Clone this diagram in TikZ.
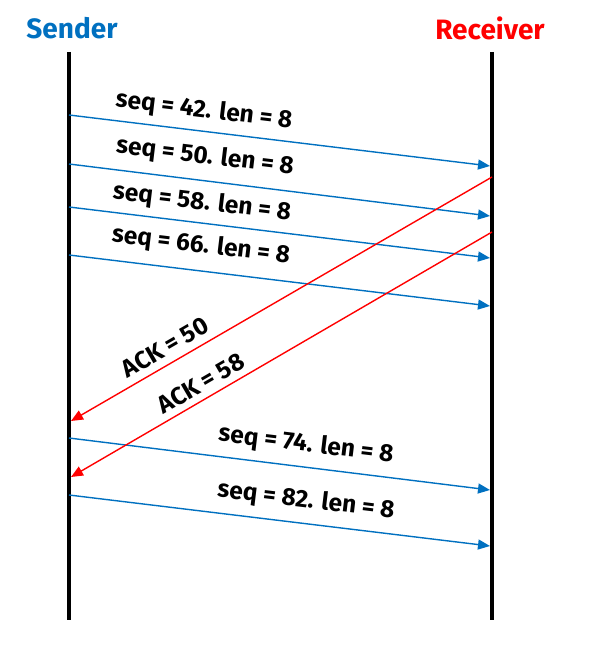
\documentclass[tikz,border=0pt]{standalone}
\usepackage{fontspec}
\setmainfont{Fira Sans}
\usetikzlibrary{arrows.meta}
\definecolor{sblue}{RGB}{0,112,192}
\definecolor{rred}{RGB}{255,0,0}
\begin{document}
\begin{tikzpicture}[x=1pt,y=-1pt,
  life/.style={line width=4pt,black},
  data/.style={line width=1.4pt,sblue,-{Triangle[length=12pt,width=10pt]}},
  ack/.style={line width=1.4pt,rred,-{Triangle[length=12pt,width=10pt]}},
  lbl/.style={font=\fontsize{24.5}{28}\selectfont\bfseries,inner sep=0pt},
  head/.style={font=\fontsize{28}{32}\selectfont\bfseries,inner sep=0pt}]
\useasboundingbox (0,0) rectangle (595,655);
% lifelines
\coordinate (s0) at (69,52); \coordinate (s1) at (69,620);
\coordinate (r0) at (492,52); \coordinate (r1) at (492,620);
\draw[life] (s0) -- (s1);
\draw[life] (r0) -- (r1);
\node[head,text=sblue] (sender) at (72,28) {Sender};
\node[head,text=rred] (receiver) at (490,28) {Receiver};
% endpoints
\coordinate (a1) at (69,115); \coordinate (b1) at (490,166);
\coordinate (a2) at (69,164); \coordinate (b2) at (490,216);
\coordinate (a3) at (69,207); \coordinate (b3) at (490,258);
\coordinate (a4) at (69,255); \coordinate (b4) at (490,306);
\coordinate (a5) at (69,438); \coordinate (b5) at (490,490);
\coordinate (a6) at (69,495); \coordinate (b6) at (490,546);
\coordinate (c1) at (492,177); \coordinate (d1) at (71,421);
\coordinate (c2) at (492,232); \coordinate (d2) at (71,477);
\draw[data] (a1) -- (b1);
\draw[data] (a2) -- (b2);
\draw[data] (a3) -- (b3);
\draw[data] (a4) -- (b4);
\draw[data] (a5) -- (b5);
\draw[data] (a6) -- (b6);
\draw[ack] (c1) -- (d1);
\draw[ack] (c2) -- (d2);
% labels
\node[lbl,rotate=-6.9] (l1) at (204,111) {seq = 42. len = 8};
\node[lbl,rotate=-6.9] (l2) at (205,157) {seq = 50. len = 8};
\node[lbl,rotate=-6.9] (l3) at (202,203) {seq = 58. len = 8};
\node[lbl,rotate=-6.9] (l4) at (201,246) {seq = 66. len = 8};
\node[lbl,rotate=30.1] (k1) at (165,347) {ACK = 50};
\node[lbl,rotate=30.1] (k2) at (201,383) {ACK = 58};
\node[lbl,rotate=-6.9] (l5) at (306,445) {seq = 74. len = 8};
\node[lbl,rotate=-6.9] (l6) at (306,501) {seq = 82. len = 8};
\end{tikzpicture}
\end{document}
